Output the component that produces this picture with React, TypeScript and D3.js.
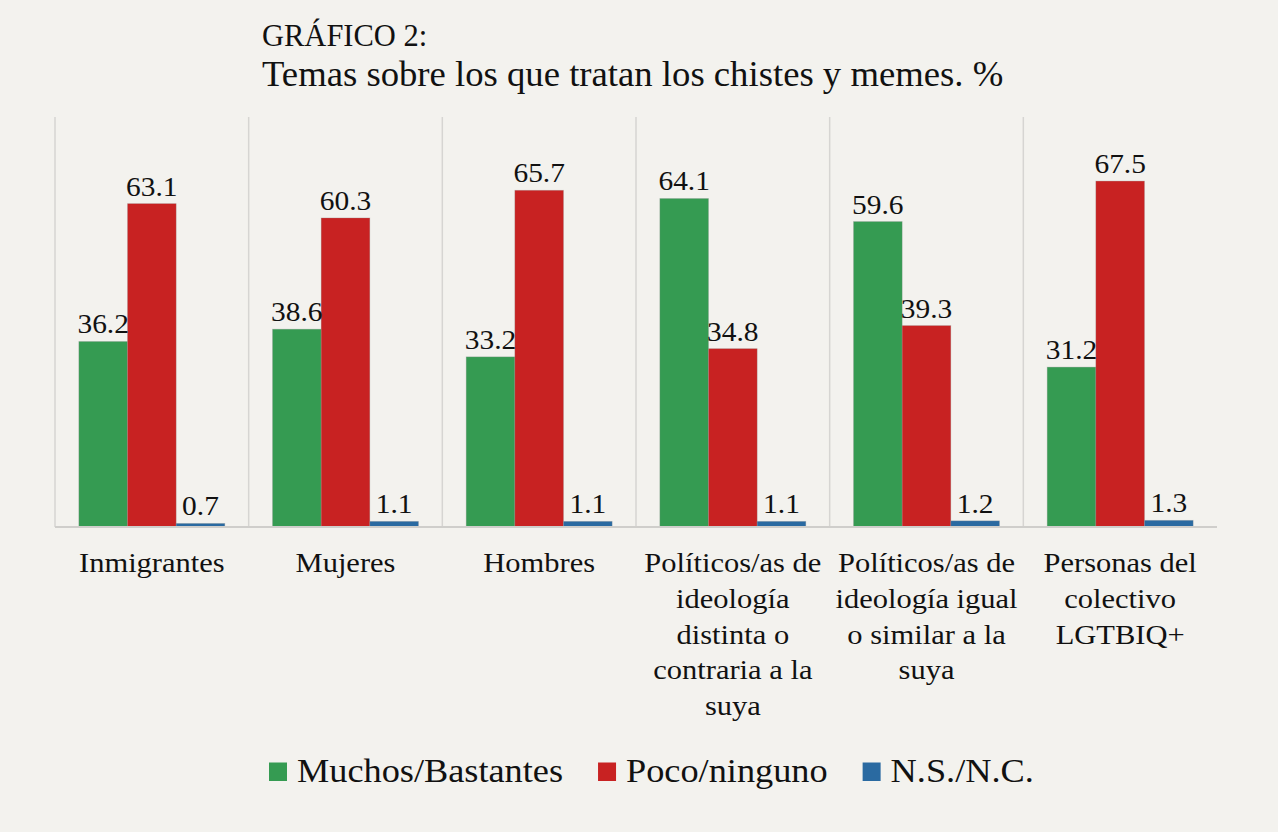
import React, { useEffect, useRef } from "react";
import * as d3 from "d3";

const categories = [
  "Inmigrantes",
  "Mujeres",
  "Hombres",
  "Políticos/as de ideología distinta o contraria a la suya",
  "Políticos/as de ideología igual o similar a la suya",
  "Personas del colectivo LGTBIQ+",
];
const categoryLines = [
  ["Inmigrantes"],
  ["Mujeres"],
  ["Hombres"],
  ["Políticos/as de", "ideología", "distinta o", "contraria a la", "suya"],
  ["Políticos/as de", "ideología igual", "o similar a la", "suya"],
  ["Personas del", "colectivo", "LGTBIQ+"],
];
const seriesNames = ["Muchos/Bastantes", "Poco/ninguno", "N.S./N.C."];
const muchos = [36.2, 38.6, 33.2, 64.1, 59.6, 31.2];
const poco = [63.1, 60.3, 65.7, 34.8, 39.3, 67.5];
const nsnc = [0.7, 1.1, 1.1, 1.1, 1.2, 1.3];
const seriesValues = [muchos, poco, nsnc];
const seriesColors = ["#359b52", "#c82222", "#2a6aa1"];
const yDomain = [0, 80];
const headerText = "GRÁFICO 2:";
const titleText = "Temas sobre los que tratan los chistes y memes. %";

const W = 1278;
const H = 832;
const FONT = "'Liberation Serif', 'Times New Roman', serif";

export default function App() {
  const ref = useRef<SVGSVGElement | null>(null);

  useEffect(() => {
    document.body.style.margin = "0";
    const svg = d3.select(ref.current);
    svg.selectAll("*").remove();

    svg.append("rect").attr("width", W).attr("height", H).attr("fill", "#f3f2ee");

    const plotLeft = 55, plotRight = 1217, plotTop = 117, plotBottom = 527;
    const x0 = d3.scaleBand<string>().domain(categories).range([plotLeft, plotRight]).padding(0);
    const x1 = d3
      .scaleBand<number>()
      .domain([0, 1, 2])
      .range([0, x0.bandwidth()])
      .paddingInner(0)
      .paddingOuter(0.49);
    const y = d3.scaleLinear().domain(yDomain).range([plotBottom, plotTop]);

    // separators
    svg
      .append("g")
      .selectAll("line")
      .data(categories)
      .join("line")
      .attr("x1", (d) => x0(d)!)
      .attr("x2", (d) => x0(d)!)
      .attr("y1", y(yDomain[1]))
      .attr("y2", y(0))
      .attr("stroke", "#d6d5d2")
      .attr("stroke-width", 1.5);

    // bars
    const groups = svg
      .append("g")
      .selectAll("g")
      .data(categories)
      .join("g")
      .attr("transform", (d) => `translate(${x0(d)},0)`);

    groups
      .selectAll("rect")
      .data((_, i) => seriesValues.map((vals, s) => ({ s, v: vals[i] })))
      .join("rect")
      .attr("x", (d) => x1(d.s)!)
      .attr("width", x1.bandwidth())
      .attr("y", (d) => y(d.v))
      .attr("height", (d) => y(0) - y(d.v))
      .attr("fill", (d) => seriesColors[d.s])
      .attr("stroke", "rgba(150,150,150,0.35)")
      .attr("stroke-width", 0.8);

    groups
      .selectAll("text")
      .data((_, i) => seriesValues.map((vals, s) => ({ s, v: vals[i] })))
      .join("text")
      .attr(
        "transform",
        (d) => `translate(${x1(d.s)! + x1.bandwidth() / 2},${y(d.v) - 8}) scale(1.07,1)`
      )
      .attr("text-anchor", "middle")
      .attr("font-family", FONT)
      .attr("font-size", 27.5)
      .attr("fill", "#111")
      .text((d) => d.v.toFixed(1));

    // baseline
    svg
      .append("line")
      .attr("x1", plotLeft)
      .attr("x2", plotRight)
      .attr("y1", y(0))
      .attr("y2", y(0))
      .attr("stroke", "#cfcecb")
      .attr("stroke-width", 2);

    // category labels
    const catG = svg.append("g");
    categories.forEach((c, i) => {
      const cx = x0(c)! + x0.bandwidth() / 2;
      categoryLines[i].forEach((line, j) => {
        catG
          .append("text")
          .attr("transform", `translate(${cx},${572 + j * 35.8}) scale(1.09,1)`)
          .attr("text-anchor", "middle")
          .attr("font-family", FONT)
          .attr("font-size", 28)
          .attr("fill", "#111")
          .text(line);
      });
    });

    // title
    svg
      .append("text")
      .attr("x", 262)
      .attr("y", 46)
      .attr("font-family", FONT)
      .attr("font-size", 30.5)
      .attr("fill", "#111")
      .text(headerText);
    svg
      .append("text")
      .attr("x", 262)
      .attr("y", 86)
      .attr("font-family", FONT)
      .attr("font-size", 36.7)
      .attr("fill", "#111")
      .text(titleText);

    // legend
    const leg = svg.append("g");
    let lx = 269;
    seriesNames.forEach((name, s) => {
      leg
        .append("rect")
        .attr("x", lx)
        .attr("y", 762.5)
        .attr("width", 18)
        .attr("height", 18.5)
        .attr("fill", seriesColors[s]);
      const t = leg
        .append("text")
        .attr("transform", `translate(${lx + 28},781.5) scale(1.1,1)`)
        .attr("font-family", FONT)
        .attr("font-size", 33)
        .attr("fill", "#111")
        .text(name);
      const w = (t.node() as SVGTextElement).getComputedTextLength() * 1.1;
      lx = lx + 28 + w + 35;
    });
  }, []);

  return (
    <svg
      ref={ref}
      width={W}
      height={H}
      style={{ position: "absolute", left: 0, top: 0, display: "block" }}
    />
  );
}
